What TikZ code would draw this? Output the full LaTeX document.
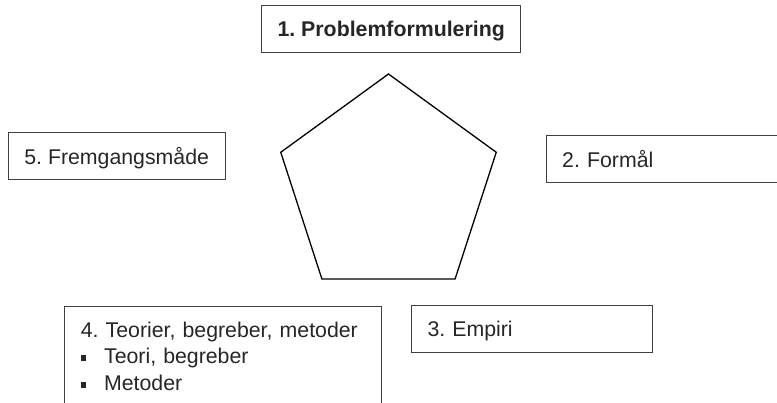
\documentclass[tikz,border=0pt]{standalone}
\usepackage{fontspec}
\setmainfont{Liberation Sans}
\usetikzlibrary{shapes.geometric}
\frenchspacing
\newcommand{\diagfont}{\fontsize{21.3}{26.7}\selectfont}
\newcommand{\sqbullet}{\makebox[23.3pt][l]{\raisebox{3pt}{\rule{5.5pt}{5.5pt}}}}
\tikzstyle{box}=[rectangle,draw=black!75,line width=1pt,inner xsep=16pt,inner ysep=0pt,minimum height=47pt,font=\diagfont,text=black!85,text height=16.4pt,text depth=0pt]
\tikzstyle{leftbox}=[align=left,anchor=west]
\tikzstyle{listbox}=[rectangle,draw=black!75,line width=1pt,inner xsep=16pt,inner ysep=15.5pt,font=\diagfont,text=black!85,align=left,text width=284.7pt]
\tikzstyle{pentagon}=[regular polygon,regular polygon sides=5,draw=black,line width=1.3pt,minimum size=226.6pt,inner sep=0pt]

\begin{document}
\begin{tikzpicture}[x=1pt,y=-1pt]
\useasboundingbox (0,0) rectangle (777,403);
\clip (0,0) rectangle (777,403);

%pentagon
\node[pentagon] (penta) at (388.5,187.3) {};

%centred boxes
\foreach \pos/\name/\boxw/\label in {{(391.2,28.8)/problem/257.7/\textbf{1. Problemformulering}}, {(116.7,156)/fremgang/216.7/{5. Fremgangsmåde}}}
    \node[box, minimum width=\boxw pt] (\name) at \pos {\label};

%left aligned boxes
\foreach \pos/\name/\boxw/\label in {{(545.7,159.2)/formaal/228/{2. Formål}}, {(411,328.8)/empiri/209.3/{3. Empiri}}}
    \node[box, leftbox, text width=\boxw pt] (\name) at \pos {\label};

%list box
\node[listbox, anchor=north west] (teorier) at (64.3,305.7) {4. Teorier, begreber, metoder\\ \sqbullet Teori, begreber\\ \sqbullet Metoder};

\end{tikzpicture}
\end{document}
